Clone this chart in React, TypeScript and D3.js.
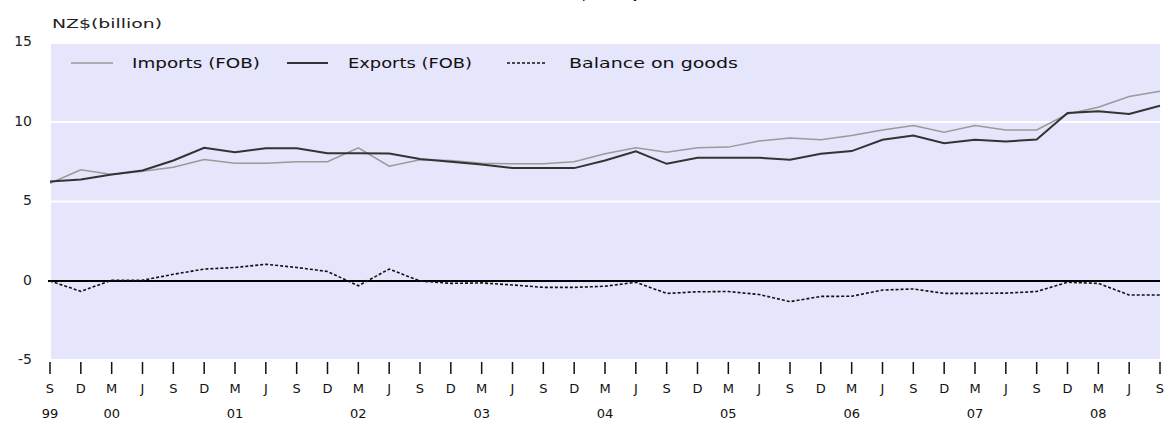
import React from "react";
import * as d3 from "d3";

const quarters = ["S","D","M","J","S","D","M","J","S","D","M","J","S","D","M","J","S","D","M","J","S","D","M","J","S","D","M","J","S","D","M","J","S","D","M","J","S"];
const yearLabels = [
  { idx: 0, label: "99" }, { idx: 2, label: "00" }, { idx: 6, label: "01" }, { idx: 10, label: "02" },
  { idx: 14, label: "03" }, { idx: 18, label: "04" }, { idx: 22, label: "05" }, { idx: 26, label: "06" },
  { idx: 30, label: "07" }, { idx: 34, label: "08" },
];
const imports = [6.15,7.0,6.7,6.9,7.16,7.64,7.4,7.4,7.5,7.5,8.38,7.22,7.62,7.58,7.41,7.37,7.37,7.5,8.0,8.38,8.1,8.38,8.42,8.8,9.0,8.88,9.15,9.5,9.78,9.36,9.78,9.5,9.5,10.5,10.93,11.6,11.94];
const exports_ = [6.26,6.38,6.7,6.95,7.58,8.38,8.1,8.35,8.35,8.04,8.04,8.02,7.68,7.5,7.33,7.1,7.1,7.1,7.58,8.15,7.37,7.75,7.75,7.75,7.62,8.0,8.17,8.88,9.15,8.67,8.88,8.78,8.9,10.56,10.68,10.5,11.02];
const balance = [0.0,-0.65,0.05,0.05,0.42,0.75,0.85,1.05,0.85,0.6,-0.3,0.75,0.0,-0.15,-0.12,-0.25,-0.4,-0.4,-0.33,-0.08,-0.78,-0.68,-0.66,-0.85,-1.3,-0.97,-0.96,-0.57,-0.5,-0.78,-0.78,-0.76,-0.66,-0.08,-0.15,-0.88,-0.88];
const yTicks = [15, 10, 5, 0, -5];
const gridValues = [5, 10];

const W = 1166, H = 423;
const FONT = "'DejaVu Sans', 'Liberation Sans', sans-serif";

export default function App() {
  const x = d3.scaleLinear().domain([0, quarters.length - 1]).range([50, 1160]);
  const y = d3.scaleLinear().domain([-5, 15]).range([360.5, 42.5]);
  const line = d3.line<number>().x((_, i) => x(i)).y((d) => y(d));

  return (
    <div style={{ position: "fixed", left: 0, top: 0 }}>
      <svg width={W} height={H} style={{ display: "block", background: "#fff" }}>
        <text x={641} y={-2.5} fontFamily={FONT} fontSize={14} textAnchor="end" fill="#000">Goods trade, quarterly</text>
        <rect x={51} y={y(15) + 1.5} width={1160 - 51} height={y(-5) - y(15) - 3} fill="#e5e5fb" />
        {gridValues.map((v) => (
          <line key={v} x1={51} x2={1160} y1={y(v)} y2={y(v)} stroke="#fff" strokeWidth={2} />
        ))}
        <line x1={48} x2={1160} y1={y(0)} y2={y(0)} stroke="#000" strokeWidth={2} />
        {yTicks.map((v) => (
          <text key={v} x={32} y={y(v) - 1} dy="0.35em" textAnchor="end" fontFamily={FONT} fontSize={14} fill="#222">{v}</text>
        ))}
        <text x={52} y={24} dy="0.35em" fontFamily={FONT} fontSize={12.5} fill="#222" textLength={110} lengthAdjust="spacingAndGlyphs">NZ$(billion)</text>

        <path d={line(imports) || ""} fill="none" stroke="#9a9a9a" strokeWidth={1.5} />
        <path d={line(exports_) || ""} fill="none" stroke="#333" strokeWidth={2} />
        <path d={line(balance) || ""} fill="none" stroke="#111" strokeWidth={1.6} strokeDasharray="3,2" />

        {/* legend */}
        <line x1={71} x2={113} y1={63} y2={63} stroke="#9a9a9a" strokeWidth={1.5} />
        <text x={132} y={63} dy="0.35em" fontFamily={FONT} fontSize={14} fill="#111" textLength={128} lengthAdjust="spacingAndGlyphs">Imports (FOB)</text>
        <line x1={287} x2={328} y1={63} y2={63} stroke="#333" strokeWidth={2} />
        <text x={348} y={63} dy="0.35em" fontFamily={FONT} fontSize={14} fill="#111" textLength={124} lengthAdjust="spacingAndGlyphs">Exports (FOB)</text>
        <line x1={507} x2={547} y1={63} y2={63} stroke="#111" strokeWidth={1.6} strokeDasharray="3,2" />
        <text x={569} y={63} dy="0.35em" fontFamily={FONT} fontSize={14} fill="#111" textLength={169} lengthAdjust="spacingAndGlyphs">Balance on goods</text>

        {quarters.map((q, i) => (
          <g key={i}>
            <line x1={x(i)} x2={x(i)} y1={362} y2={374} stroke="#111" strokeWidth={1.5} />
            <text x={x(i)} y={388} dy="0.35em" textAnchor="middle" fontFamily={FONT} fontSize={13} fill="#111">{q}</text>
          </g>
        ))}
        {yearLabels.map((yl) => (
          <text key={yl.label} x={x(yl.idx)} y={413} dy="0.35em" textAnchor="middle" fontFamily={FONT} fontSize={13} fill="#111">{yl.label}</text>
        ))}
      </svg>
    </div>
  );
}
